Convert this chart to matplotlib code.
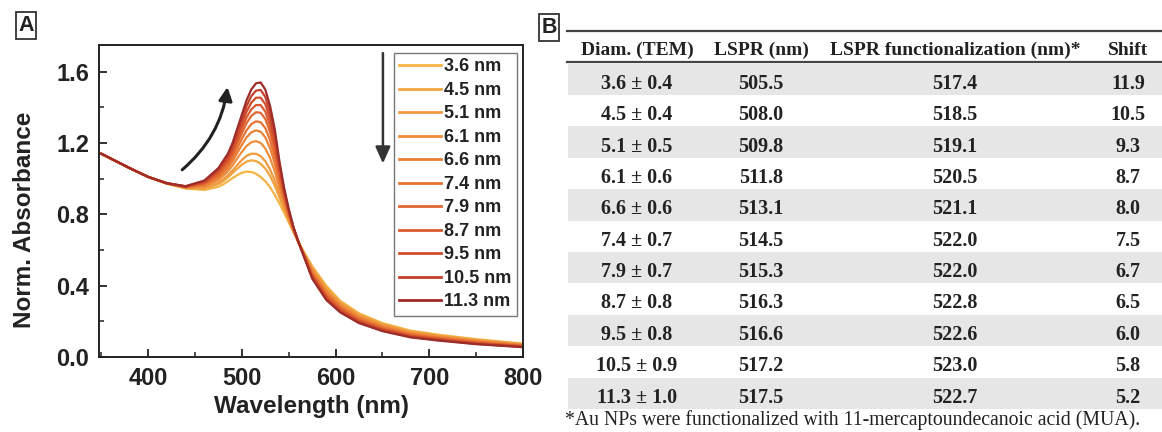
import matplotlib
matplotlib.use('Agg')
import matplotlib.pyplot as plt
from matplotlib.ticker import MultipleLocator, FormatStrFormatter
from matplotlib.patches import Rectangle

# ---------------- data ----------------
wavelength = [350, 365, 380, 400, 420, 440, 460,
              475, 480, 485, 490, 495, 500, 505, 510, 515, 520, 525, 530, 535, 540,
              545, 550, 555, 560, 565,
              575, 590, 605, 625, 650, 680, 710, 750, 800]

abs_3_6 = [1.14, 1.10, 1.06, 1.01, 0.972, 0.945, 0.937,
           0.955, 0.968, 0.985, 1.003, 1.020, 1.033, 1.040, 1.038, 1.028, 1.010, 0.985, 0.952,
           0.910, 0.862, 0.810, 0.755, 0.700, 0.648, 0.600,
           0.510, 0.400, 0.315, 0.245, 0.190, 0.148, 0.125, 0.100, 0.075]
abs_4_5 = [1.14, 1.10, 1.06, 1.01, 0.972, 0.947, 0.944,
           0.970, 0.986, 1.007, 1.031, 1.056, 1.079, 1.096, 1.103, 1.099, 1.084, 1.057, 1.016,
           0.962, 0.895, 0.830, 0.766, 0.704, 0.648, 0.597,
           0.500, 0.389, 0.306, 0.237, 0.184, 0.143, 0.120, 0.096, 0.072]
abs_5_1 = [1.14, 1.10, 1.06, 1.01, 0.973, 0.948, 0.949,
           0.978, 0.997, 1.019, 1.046, 1.077, 1.105, 1.128, 1.140, 1.140, 1.127, 1.098, 1.053,
           0.991, 0.914, 0.841, 0.772, 0.707, 0.648, 0.596,
           0.495, 0.382, 0.301, 0.233, 0.180, 0.140, 0.118, 0.094, 0.071]
abs_6_1 = [1.14, 1.10, 1.06, 1.01, 0.973, 0.950, 0.956,
           0.993, 1.016, 1.041, 1.074, 1.114, 1.151, 1.184, 1.204, 1.211, 1.201, 1.170, 1.117,
           1.043, 0.948, 0.860, 0.782, 0.711, 0.649, 0.593,
           0.485, 0.371, 0.292, 0.225, 0.174, 0.134, 0.113, 0.090, 0.068]
abs_6_6 = [1.14, 1.10, 1.06, 1.01, 0.973, 0.951, 0.962,
           1.005, 1.031, 1.059, 1.098, 1.145, 1.190, 1.232, 1.260, 1.271, 1.264, 1.232, 1.172,
           1.088, 0.976, 0.877, 0.791, 0.714, 0.649, 0.590,
           0.476, 0.362, 0.284, 0.219, 0.168, 0.130, 0.109, 0.087, 0.065]
abs_7_4 = [1.14, 1.10, 1.06, 1.01, 0.974, 0.953, 0.968,
           1.016, 1.045, 1.075, 1.117, 1.171, 1.223, 1.272, 1.306, 1.322, 1.317, 1.284, 1.218,
           1.125, 1.000, 0.891, 0.799, 0.717, 0.649, 0.588,
           0.469, 0.354, 0.277, 0.213, 0.164, 0.126, 0.106, 0.084, 0.063]
abs_7_9 = [1.14, 1.10, 1.06, 1.01, 0.974, 0.954, 0.973,
           1.026, 1.058, 1.090, 1.137, 1.197, 1.255, 1.312, 1.352, 1.373, 1.370, 1.335, 1.263,
           1.162, 1.024, 0.905, 0.806, 0.720, 0.649, 0.586,
           0.462, 0.346, 0.271, 0.208, 0.159, 0.122, 0.103, 0.081, 0.061]
abs_8_7 = [1.14, 1.10, 1.06, 1.01, 0.974, 0.955, 0.977,
           1.035, 1.068, 1.103, 1.153, 1.218, 1.282, 1.344, 1.389, 1.413, 1.413, 1.376, 1.300,
           1.191, 1.043, 0.916, 0.812, 0.723, 0.650, 0.585,
           0.457, 0.339, 0.266, 0.203, 0.156, 0.119, 0.100, 0.079, 0.060]
abs_9_5 = [1.14, 1.10, 1.06, 1.01, 0.975, 0.956, 0.982,
           1.043, 1.079, 1.115, 1.169, 1.238, 1.308, 1.376, 1.426, 1.454, 1.455, 1.418, 1.337,
           1.221, 1.062, 0.928, 0.818, 0.725, 0.650, 0.583,
           0.451, 0.333, 0.260, 0.199, 0.152, 0.116, 0.097, 0.076, 0.058]
abs_10_5 = [1.14, 1.10, 1.06, 1.01, 0.975, 0.957, 0.986,
            1.052, 1.089, 1.128, 1.184, 1.259, 1.334, 1.408, 1.463, 1.494, 1.498, 1.459, 1.373,
            1.250, 1.081, 0.939, 0.824, 0.728, 0.650, 0.582,
            0.446, 0.326, 0.255, 0.194, 0.149, 0.113, 0.095, 0.074, 0.057]
abs_11_3 = [1.14, 1.10, 1.06, 1.01, 0.975, 0.958, 0.990,
            1.060, 1.100, 1.140, 1.200, 1.280, 1.360, 1.440, 1.500, 1.535, 1.540, 1.500, 1.410,
            1.280, 1.100, 0.950, 0.830, 0.730, 0.650, 0.580,
            0.440, 0.320, 0.250, 0.190, 0.145, 0.110, 0.092, 0.072, 0.055]

spectra = [abs_3_6, abs_4_5, abs_5_1, abs_6_1, abs_6_6, abs_7_4, abs_7_9,
           abs_8_7, abs_9_5, abs_10_5, abs_11_3]
size_labels = ['3.6 nm', '4.5 nm', '5.1 nm', '6.1 nm', '6.6 nm', '7.4 nm',
               '7.9 nm', '8.7 nm', '9.5 nm', '10.5 nm', '11.3 nm']
colors = ['#F4B444', '#F2A642', '#F09A40', '#EE8D3C', '#EB8036', '#E77332',
          '#E2662F', '#DB5A2D', '#D04D2C', '#C2412C', '#9E2C28']

# table B
table_header = ['Diam. (TEM)', 'LSPR (nm)', 'LSPR functionalization (nm)*', 'Shift']
diam_tem = ['3.6 ± 0.4', '4.5 ± 0.4', '5.1 ± 0.5', '6.1 ± 0.6', '6.6 ± 0.6', '7.4 ± 0.7',
            '7.9 ± 0.7', '8.7 ± 0.8', '9.5 ± 0.8', '10.5 ± 0.9', '11.3 ± 1.0']
lspr_nm = ['505.5', '508.0', '509.8', '511.8', '513.1', '514.5', '515.3', '516.3',
           '516.6', '517.2', '517.5']
lspr_func_nm = ['517.4', '518.5', '519.1', '520.5', '521.1', '522.0', '522.0', '522.8',
                '522.6', '523.0', '522.7']
shift_nm = ['11.9', '10.5', '9.3', '8.7', '8.0', '7.5', '6.7', '6.5', '6.0', '5.8', '5.2']
footnote = '*Au NPs were functionalized with 11-mercaptoundecanoic acid (MUA).'

# ---------------- figure ----------------
W, H = 1162, 432
fig = plt.figure(figsize=(W / 100, H / 100), dpi=100)
sans = ['Liberation Sans', 'DejaVu Sans']
serif = ['Liberation Serif', 'DejaVu Serif']
txt = '#222222'

ax = fig.add_axes([99 / W, 1 - 357 / H, 424 / W, 312 / H])
for y, c, lab in zip(spectra, colors, size_labels):
    ax.plot(wavelength, y, color=c, lw=1.6, label=lab, solid_joinstyle='round')

ax.set_xlim(347.5, 800)
ax.set_ylim(0, 1.75)
ax.xaxis.set_major_locator(MultipleLocator(100))
ax.xaxis.set_minor_locator(MultipleLocator(50))
ax.yaxis.set_major_locator(MultipleLocator(0.4))
ax.yaxis.set_minor_locator(MultipleLocator(0.2))
ax.yaxis.set_major_formatter(FormatStrFormatter('%.1f'))
ax.tick_params(which='both', direction='in', top=False, right=False, color='#222222')
ax.tick_params(which='major', length=6, width=1.3, labelsize=17, pad=7)
ax.tick_params(which='minor', length=3.5, width=1.1)
for lbl in ax.get_xticklabels() + ax.get_yticklabels():
    lbl.set_fontfamily(sans)
    lbl.set_fontweight('bold')
    lbl.set_color(txt)
for sp in ax.spines.values():
    sp.set_linewidth(1.4)
    sp.set_color('#222222')

leg = ax.legend(loc='upper right', bbox_to_anchor=((517 - 99) / 424, (357 - 53) / 312),
                borderaxespad=0, frameon=True, fancybox=False, edgecolor='#555555',
                prop={'family': sans, 'weight': 'bold', 'size': 13},
                handlelength=2.3, handletextpad=0.2, labelspacing=0.36,
                borderpad=0.3)
leg.get_frame().set_linewidth(1.0)
for t in leg.get_texts():
    t.set_color(txt)
for l in leg.get_lines():
    l.set_linewidth(2.0)

# arrows
ax.annotate('', xy=(485, 1.53), xytext=(434, 1.04),
            arrowprops=dict(arrowstyle='-|>,head_length=0.8,head_width=0.4',
                            connectionstyle='arc3,rad=0.2', color='#222222', lw=2.2))
ax.annotate('', xy=(650.5, 1.07), xytext=(650.5, 1.72),
            arrowprops=dict(arrowstyle='-|>,head_length=1.0,head_width=0.45',
                            color='#333333', lw=1.8))

fig.text(311 / W, 1 - 407 / H, 'Wavelength (nm)', ha='center', va='center',
         fontsize=17.5, fontweight='bold', family=sans, color=txt)
fig.text(25 / W, 1 - 220 / H, 'Norm. Absorbance', ha='center', va='center',
         rotation=90, fontsize=17.5, fontweight='bold', family=sans, color=txt)

# ---------------- table B ----------------
tx = fig.add_axes([0, 0, 1, 1], zorder=-1)
tx.set_xlim(0, W)
tx.set_ylim(H, 0)
tx.axis('off')

panel_box = dict(boxstyle='square,pad=0.12', fc='white', ec='#333333', lw=1.3)
tx.text(26, 25.5, 'A', ha='center', va='center', fontsize=15.5, fontweight='bold',
        family=sans, color=txt, bbox=panel_box)
tx.text(549, 27.5, 'B', ha='center', va='center', fontsize=15.5, fontweight='bold',
        family=sans, color=txt, bbox=panel_box)

col_x = [637, 761, 955, 1128]
row_top = 63.5
row_h = 31.4
tx.plot([567, W], [30.5, 30.5], color='#444444', lw=1.6)
tx.plot([567, W], [62, 62], color='#444444', lw=1.6)
for cx, h in zip(col_x, table_header):
    tx.text(cx, 55, h, ha='center', va='baseline', fontsize=14, fontweight='bold',
            family=serif, color=txt)

for i, row in enumerate(zip(diam_tem, lspr_nm, lspr_func_nm, shift_nm)):
    top = row_top + i * row_h
    if i % 2 == 0:
        tx.add_patch(Rectangle((568, top), W - 568, row_h, facecolor='#E6E6E6',
                               edgecolor='none'))
    for cx, val in zip(col_x, row):
        tx.text(cx, top + row_h / 2 + 9.5, val, ha='center', va='baseline', fontsize=14.5,
                fontweight='bold', family=serif, color=txt)

tx.text(565, 425, footnote, ha='left', va='baseline', fontsize=14.2, family=serif,
        color=txt)

fig.savefig('out.png', dpi=100)
